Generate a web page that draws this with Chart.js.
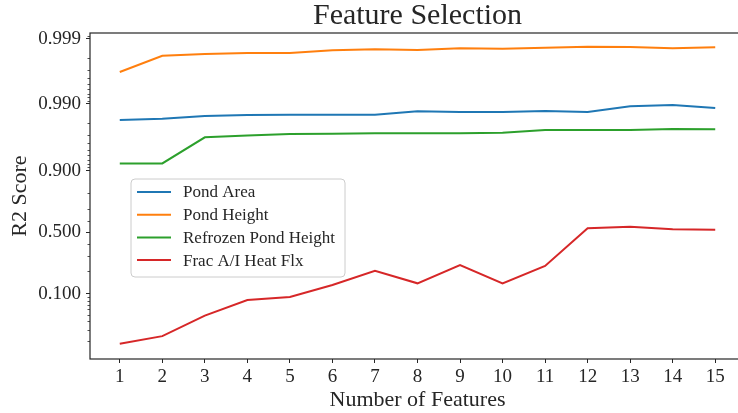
<!DOCTYPE html>
<html><head><meta charset="utf-8">
<script src="https://cdn.jsdelivr.net/npm/chart.js@4.4.0/dist/chart.umd.min.js"></script>
<style>
html,body{margin:0;padding:0;background:#fff;overflow:hidden;width:738px;height:413px}
#wrap{width:750px;height:413px}
</style>
</head><body><div id="wrap"><canvas id="c" width="750" height="413"></canvas></div>
<script>
// ---- data ----
const features = [1,2,3,4,5,6,7,8,9,10,11,12,13,14,15];
const pondArea = [0.9822,0.9829,0.9845,0.9851,0.9852,0.9852,0.9852,0.9869,0.9866,0.9866,0.9870,0.9866,0.9890,0.9895,0.9883];
const pondHeight = [0.99674,0.99818,0.99829,0.99834,0.99834,0.99850,0.99856,0.99851,0.99860,0.99858,0.99863,0.99868,0.99867,0.99860,0.99865];
const refrozenPondHeight = [0.9213,0.9213,0.9674,0.9695,0.9710,0.9713,0.9718,0.9718,0.9718,0.9721,0.9747,0.9747,0.9747,0.9756,0.9754];
const fracHeatFlx = [0.0183,0.0239,0.0485,0.0817,0.090,0.132,0.201,0.139,0.237,0.139,0.231,0.536,0.550,0.527,0.523];
const seriesLabels = ['Pond Area','Pond Height','Refrozen Pond Height','Frac A/I Heat Flx'];
const seriesColors = ['#1f77b4','#ff7f0e','#2ca02c','#d62728'];
const yMajorTicks = [0.1,0.5,0.9,0.99,0.999];
const yMajorLabels = ['0.100','0.500','0.900','0.990','0.999'];
const yMinorTicks = [0.02,0.03,0.04,0.05,0.06,0.07,0.08,0.09,0.2,0.3,0.4,0.6,0.7,0.8,
  0.91,0.92,0.93,0.94,0.95,0.96,0.97,0.98,0.991,0.992,0.993,0.994,0.995,0.996,0.997,0.998,0.9991];
const yLimits = [0.0107, 0.99919];
const xLimits = [0.3, 15.7];

const logit = p => Math.log(p / (1 - p));
const FONT = "'Liberation Serif','DejaVu Serif',serif";
const INK = '#262626';

const allSeries = [pondArea, pondHeight, refrozenPondHeight, fracHeatFlx];
const datasets = allSeries.map((vals, i) => ({
  label: seriesLabels[i],
  data: features.map((f, j) => ({x: f, y: logit(vals[j])})),
  borderColor: seriesColors[i],
  backgroundColor: seriesColors[i],
  borderWidth: 2,
  pointRadius: 0,
  tension: 0,
  fill: false
}));

const decor = {
  id: 'decor',
  afterDraw(chart) {
    const ctx = chart.ctx;
    const ca = chart.chartArea;
    const ys = chart.scales.y;
    ctx.save();
    // minor ticks
    ctx.strokeStyle = INK;
    ctx.lineWidth = 0.8;
    yMinorTicks.forEach(v => {
      const py = Math.round(ys.getPixelForValue(logit(v))) + 0.5;
      if (py < ca.top || py > ca.bottom) return;
      ctx.beginPath();
      ctx.moveTo(ca.left - 2.5, py);
      ctx.lineTo(ca.left, py);
      ctx.stroke();
    });
    // frame
    ctx.strokeStyle = INK;
    ctx.lineWidth = 1.2;
    ctx.strokeRect(ca.left, ca.top, ca.right - ca.left, ca.bottom - ca.top);
    // legend
    const bx = 131, by = 179, bw = 214, bh = 98, r = 4;
    ctx.beginPath();
    ctx.moveTo(bx + r, by);
    ctx.arcTo(bx + bw, by, bx + bw, by + bh, r);
    ctx.arcTo(bx + bw, by + bh, bx, by + bh, r);
    ctx.arcTo(bx, by + bh, bx, by, r);
    ctx.arcTo(bx, by, bx + bw, by, r);
    ctx.closePath();
    ctx.fillStyle = 'rgba(255,255,255,0.8)';
    ctx.fill();
    ctx.strokeStyle = '#cccccc';
    ctx.lineWidth = 1;
    ctx.stroke();
    ctx.font = '17px ' + FONT;
    ctx.textBaseline = 'middle';
    ctx.textAlign = 'left';
    chart.data.datasets.forEach((ds, i) => {
      const yy = 192 + i * 22.7;
      ctx.strokeStyle = ds.borderColor;
      ctx.lineWidth = 2;
      ctx.beginPath();
      ctx.moveTo(137, yy);
      ctx.lineTo(171, yy);
      ctx.stroke();
      ctx.fillStyle = INK;
      ctx.fillText(ds.label, 183, yy + 1);
    });
    ctx.restore();
  }
};

new Chart(document.getElementById('c'), {
  type: 'line',
  data: {datasets},
  options: {
    responsive: false,
    devicePixelRatio: 1,
    animation: false,
    layout: {padding: {left: 0, right: 5, top: 0, bottom: 0}},
    plugins: {
      legend: {display: false},
      tooltip: {enabled: false},
      title: {
        display: true,
        text: 'Feature Selection',
        fullSize: false,
        color: INK,
        font: {family: FONT, size: 30, weight: 'normal', lineHeight: 1},
        padding: {top: 1, bottom: 2}
      }
    },
    scales: {
      x: {
        type: 'linear',
        min: xLimits[0], max: xLimits[1],
        afterBuildTicks: s => { s.ticks = features.map(v => ({value: v})); },
        afterFit: s => { s.height = 54; },
        ticks: {color: INK, font: {family: FONT, size: 19}, padding: 3, maxRotation: 0,
          callback: v => String(v)},
        grid: {display: true, drawOnChartArea: false, drawTicks: true, tickLength: 4, tickColor: INK, tickWidth: 1},
        border: {display: false},
        title: {display: true, text: 'Number of Features', color: INK,
          font: {family: FONT, size: 22, lineHeight: 1}, padding: {top: 0, bottom: 2}}
      },
      y: {
        type: 'linear',
        min: logit(yLimits[0]), max: logit(yLimits[1]),
        afterBuildTicks: s => { s.ticks = yMajorTicks.map(v => ({value: logit(v)})); },
        afterFit: s => { s.width = 90; },
        ticks: {color: INK, font: {family: FONT, size: 19}, padding: 5,
          callback: (v, i) => yMajorLabels[i]},
        grid: {display: true, drawOnChartArea: false, drawTicks: true, tickLength: 4, tickColor: INK, tickWidth: 1},
        border: {display: false},
        title: {display: true, text: 'R2 Score', color: INK,
          font: {family: FONT, size: 22, lineHeight: 1}, padding: {top: 9, bottom: 0}}
      }
    }
  },
  plugins: [decor]
});
</script>
</body></html>
